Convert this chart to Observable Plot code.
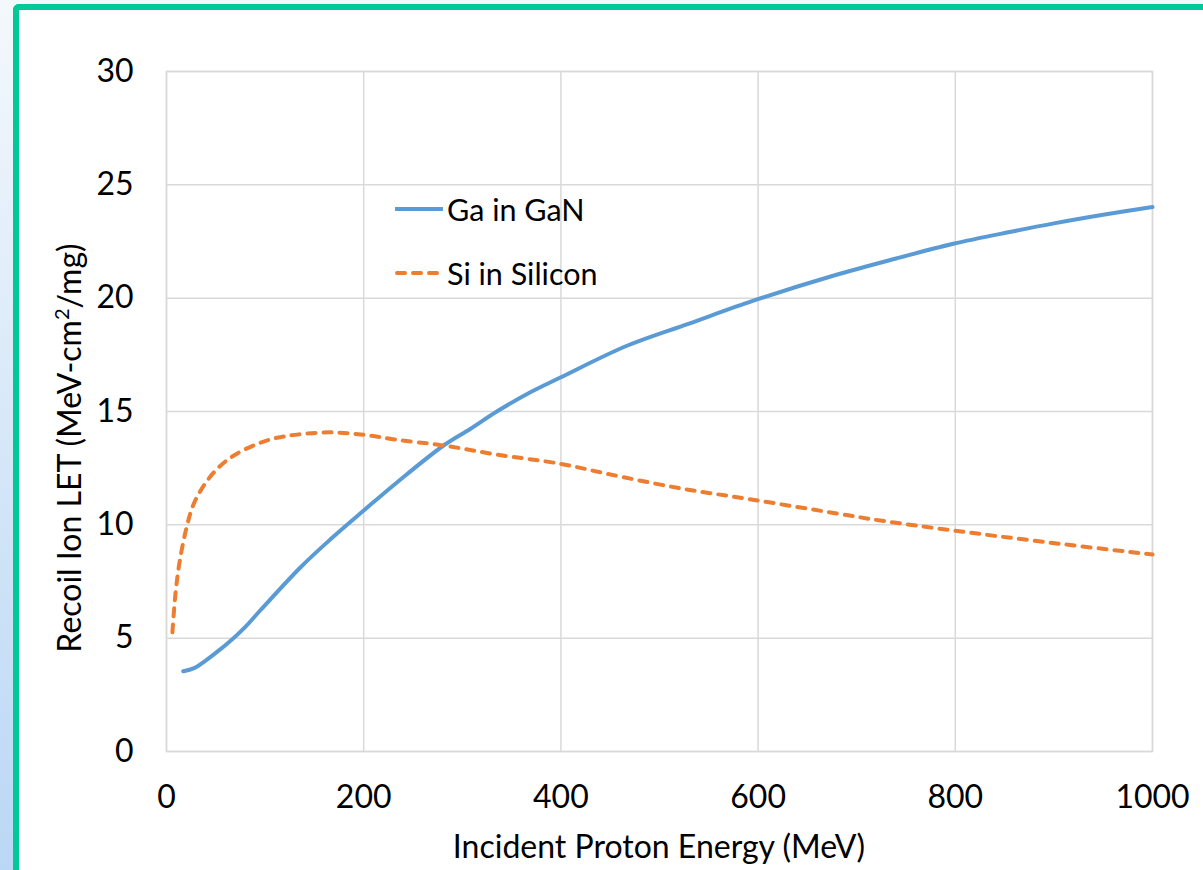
<!DOCTYPE html>
<html><head><meta charset="utf-8">
<script src="https://cdn.jsdelivr.net/npm/d3@7"></script>
<script src="https://cdn.jsdelivr.net/npm/@observablehq/plot@0.6"></script>
<style>
body{margin:0;width:1203px;height:870px;overflow:hidden;position:relative;background:linear-gradient(to bottom,#f4f8fc,#bad7f5);font-family:Lato,"Open Sans",sans-serif;color:#000;}
#frame{position:absolute;left:13px;top:4px;width:1300px;height:1000px;border-left:6px solid #00c896;border-top:6px solid #00c896;border-top-left-radius:6px;background:#fff;box-sizing:border-box;}
#chart{position:absolute;left:0;top:0;}
.ylab{position:absolute;left:68px;top:448px;transform:translate(-50%,-50%) rotate(-90deg);white-space:nowrap;font-size:32px;}
.ylab sup{font-size:20px;line-height:0;}
.xlab{position:absolute;left:659px;top:845px;transform:translate(-50%,-50%);white-space:nowrap;font-size:32px;}
.leg{position:absolute;left:395px;display:flex;align-items:center;font-size:30.5px;white-space:nowrap;transform:translateY(-50%);}
.leg svg{margin-right:4px;}
</style>
</head><body>
<div id="frame"></div>
<div id="chart"></div>
<div class="ylab">Recoil Ion LET (MeV-cm<sup>2</sup>/mg)</div>
<div class="xlab">Incident Proton Energy (MeV)</div>
<div class="leg" style="top:209px"><svg width="48" height="8"><line x1="0" x2="48" y1="4" y2="4" stroke="#5B9BD5" stroke-width="4"/></svg><span id="l1"></span></div>
<div class="leg" style="top:273px"><svg width="48" height="8"><line x1="2" x2="48" y1="4" y2="4" stroke="#ED7D31" stroke-width="4" stroke-dasharray="8,8" stroke-linecap="round"/></svg><span id="l2"></span></div>
<script>
const seriesNames = ["Ga in GaN", "Si in Silicon"];
const gaEnergy = [17, 28, 40, 50, 61.5, 80, 95, 136, 166, 200, 234, 281, 308, 335, 369, 400, 467, 530, 596, 677, 740, 798, 859, 900, 950, 1000];
const gaLet    = [3.54, 3.68, 4.02, 4.35, 4.75, 5.5, 6.22, 8.13, 9.35, 10.63, 11.88, 13.5, 14.23, 15.0, 15.85, 16.51, 17.9, 18.88, 19.9, 21.0, 21.75, 22.4, 22.95, 23.3, 23.68, 24.02];
const siEnergy = [6, 9.1, 13.5, 21, 27.7, 37.8, 51.4, 68.3, 92, 112, 132.5, 166, 200, 234, 281, 335, 400, 447, 520, 596, 680, 724, 798, 893, 1000];
const siLet    = [5.26, 6.96, 8.42, 10.0, 10.93, 11.73, 12.47, 13.06, 13.57, 13.84, 13.98, 14.08, 13.97, 13.75, 13.5, 13.1, 12.69, 12.25, 11.62, 11.1, 10.5, 10.19, 9.75, 9.23, 8.69];
const xTicks = [0, 200, 400, 600, 800, 1000];
const yTicks = [0, 5, 10, 15, 20, 25, 30];

document.getElementById("l1").textContent = seriesNames[0];
document.getElementById("l2").textContent = seriesNames[1];

const ga = gaEnergy.map((e, i) => ({e, v: gaLet[i]}));
const si = siEnergy.map((e, i) => ({e, v: siLet[i]}));

const chart = Plot.plot({
  width: 1203, height: 870,
  marginLeft: 166, marginRight: 51, marginTop: 71, marginBottom: 119,
  style: {fontSize: "32px", fontFamily: "Lato, 'Open Sans', sans-serif", color: "#000", background: "transparent", overflow: "visible"},
  x: {domain: [0, 1000]},
  y: {domain: [0, 30]},
  marks: [
    Plot.gridX(xTicks, {stroke: "#d9d9d9", strokeOpacity: 1, strokeWidth: 1.5}),
    Plot.gridY(yTicks, {stroke: "#d9d9d9", strokeOpacity: 1, strokeWidth: 1.5}),
    Plot.frame({stroke: "#d9d9d9", strokeWidth: 1.5}),
    Plot.axisX(xTicks, {tickSize: 0, tickPadding: 34, label: null, fill: "#000", tickFormat: d => String(d)}),
    Plot.axisY(yTicks, {tickSize: 0, tickPadding: 33, label: null, fill: "#000", tickFormat: d => String(d)}),
    Plot.line(ga, {x: "e", y: "v", stroke: "#5B9BD5", strokeWidth: 4, curve: "catmull-rom"}),
    Plot.line(si, {x: "e", y: "v", stroke: "#ED7D31", strokeWidth: 4, curve: "catmull-rom", strokeDasharray: "8,8", strokeLinecap: "round"})
  ]
});
document.getElementById("chart").appendChild(chart);
</script>
</body></html>
